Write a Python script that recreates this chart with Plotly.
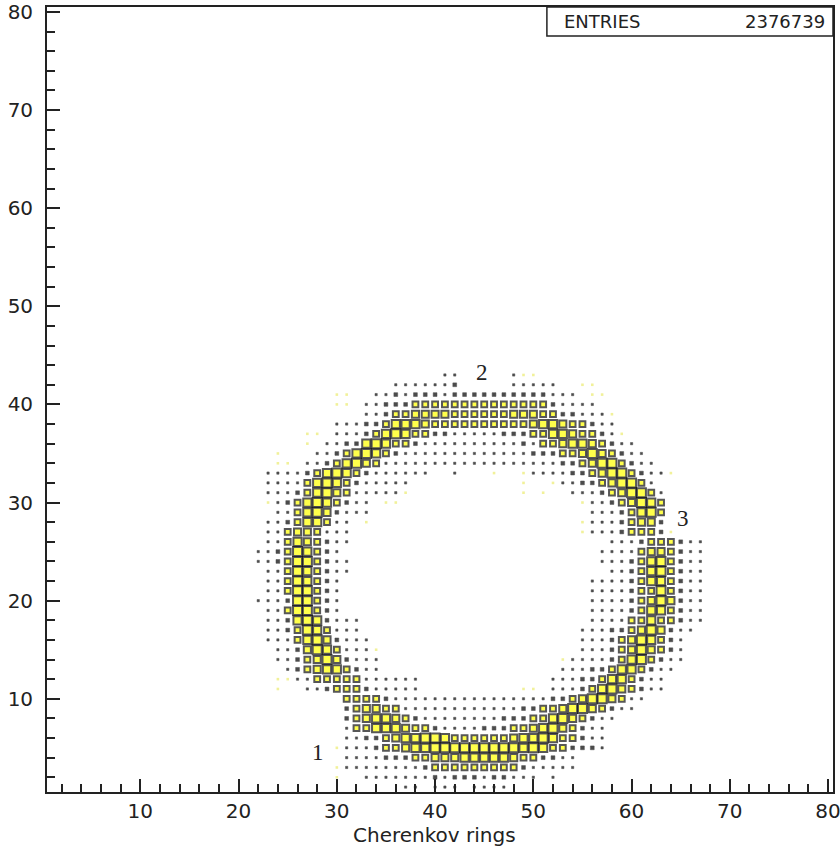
import plotly.graph_objects as go

# ---- data ----------------------------------------------------------------
# Box-plot bin contents, as relative levels: 1 = tiniest dot ... 6 = fullest box,
# 'd' = very faint (pale yellow) bins, '.' = empty.
# Each row: (y bin, first x bin, levels of consecutive x bins)
ROWS = [
    (43, 41, "11.....1dd"),
    (42, 36, "1111112.....11111..dd"),
    (41, 30, "dd..112122212222222222111.dd"),
    (40, 30, "dd.112223333333333333321111"),
    (39, 33, "1123344443333334443322111d"),
    (38, 30, "11122355543333333333455433211"),
    (37, 27, "dd.11123565332211111222335543321d"),
    (36, 27, "d.11225653321111111111213345543211"),
    (35, 24, "d...1123565321111111111111222334643211"),
    (34, 24, "dd.112356431111111111111111112234663211"),
    (33, 23, "11112356532111111..1...d..d11112234663211d"),
    (32, 23, "111135653211111...........d..d1122346631"),
    (31, 23, "11123564311111d...........d.d..1112346631"),
    (30, 23, "d1235653211.dd..................d11234653"),
    (29, 24, "1135642111......................11123563"),
    (28, 23, "112355311.d.....................d11123442"),
    (27, 23, "113443111.......................d11123332d"),
    (26, 23, "113543211..........................1112333211"),
    (25, 22, "112365321..........................11113443211"),
    (24, 22, "1123663211.........................11123563211"),
    (23, 23, "113653211..........................1123563211"),
    (22, 23, "11365321.........................111123553211"),
    (21, 23, "11366321.........................111123363211"),
    (20, 22, "111266321.........................111123464211"),
    (19, 23, "11366321.........................111123553211"),
    (18, 23, "1125652111.......................111133533211"),
    (17, 23, "1123653111......................111223464211"),
    (16, 23, "11135642111.....................11123465321"),
    (15, 24, "1124653111d....................11123464321"),
    (14, 24, "11234642111..................d111123563211"),
    (13, 25, "1234553211..................111223553211"),
    (12, 24, "dd1133333111111.............111223553211"),
    (11, 24, "d..112333211111..........dd.111235643211"),
    (10, 31, "3333211111111111111112234664311"),
    (9, 31, "234433111111111111223346643211"),
    (8, 31, "2345543211111111222335643211"),
    (7, 31, "133555433211112223345643211"),
    (6, 31, "112234556653333334556533211"),
    (5, 30, "d111233455666666666565332221"),
    (4, 31, "111122233444555554332211"),
    (3, 30, "d111111112333333333211111"),
    (2, 30, "d..111111121222122111.1"),
    (1, 37, "11.111.1111"),
]

ENTRIES = 2376739
TICKS = [10, 20, 30, 40, 50, 60, 70, 80]
REGION_LABELS = [("1", 28.1, 4.5), ("2", 44.8, 43.3), ("3", 65.2, 28.4)]
X_TITLE = "Cherenkov rings"

# ---- styles ---------------------------------------------------------------
YELLOW_SIZE = {3: 5.8, 4: 7.1, 5: 8.2, 6: 9.0}
DARK_SIZE = {1: 2.3, 2: 3.8}
FONT = "DejaVu Sans"

xs_y, ys_y, sz_y = [], [], []
xs_k, ys_k, sz_k = [], [], []
xs_f, ys_f = [], []
for yb, x0, levels in ROWS:
    for i, ch in enumerate(levels):
        xb = x0 + i
        if ch == ".":
            continue
        if ch == "d":
            xs_f.append(xb); ys_f.append(yb)
            continue
        lv = int(ch)
        if lv >= 3:
            xs_y.append(xb); ys_y.append(yb); sz_y.append(YELLOW_SIZE[lv])
        else:
            xs_k.append(xb); ys_k.append(yb); sz_k.append(DARK_SIZE[lv])

fig = go.Figure()
fig.add_trace(go.Scatter(
    x=xs_f, y=ys_f, mode="markers", hoverinfo="skip",
    marker=dict(symbol="square", size=2.6, color="#f1f19a", line=dict(width=0)),
))
fig.add_trace(go.Scatter(
    x=xs_k, y=ys_k, mode="markers", hoverinfo="skip",
    marker=dict(symbol="square", size=sz_k, color="#000000",
                line=dict(width=0.5, color="#000000")),
))
fig.add_trace(go.Scatter(
    x=xs_y, y=ys_y, mode="markers", hoverinfo="skip",
    marker=dict(symbol="square", size=sz_y, color="#ffff00",
                line=dict(width=2.0, color="#111111")),
))

axis_common = dict(
    range=[0.5, 80.5], tickmode="array", tickvals=TICKS,
    ticktext=[str(t) for t in TICKS],
    ticks="inside", ticklen=13, tickwidth=1.5, tickcolor="#222",
    minor=dict(dtick=2, tick0=0, ticks="inside", ticklen=8, tickwidth=1.5, tickcolor="#222"),
    showline=True, linecolor="#222", linewidth=1.8, mirror=True,
    showgrid=False, zeroline=False, automargin=False, ticklabeloverflow="allow",
    tickfont=dict(family=FONT, size=20, color="#222"),
)
fig.update_xaxes(**axis_common, ticklabelstandoff=0)
fig.update_yaxes(**axis_common, ticklabelstandoff=8)

# statistics box
fig.add_shape(type="rect", xref="paper", yref="paper", x0=0.636, x1=1.0, y0=0.963, y1=1.0,
              line=dict(color="#222", width=1.5), fillcolor="white", layer="above")
fig.add_annotation(xref="paper", yref="paper", x=0.655, y=0.9815, text="ENTRIES",
                   showarrow=False, xanchor="left", yanchor="middle",
                   font=dict(family=FONT, size=18, color="#222"))
fig.add_annotation(xref="paper", yref="paper", x=0.993, y=0.9815, text=str(ENTRIES),
                   showarrow=False, xanchor="right", yanchor="middle",
                   font=dict(family=FONT, size=18, color="#222"))

for txt, lx, ly in REGION_LABELS:
    fig.add_annotation(x=lx, y=ly, text=txt, showarrow=False,
                       font=dict(family="Liberation Serif", size=23, color="#222"))

fig.add_annotation(xref="paper", yref="paper", x=0.4936, y=-0.0548, text=X_TITLE,
                   showarrow=False, xanchor="center", yanchor="middle",
                   font=dict(family=FONT, size=20, color="#222"))

fig.update_layout(
    width=840, height=851, margin=dict(l=47, r=7, t=7, b=59),
    paper_bgcolor="white", plot_bgcolor="white", showlegend=False,
)
fig.write_html("out.html")
